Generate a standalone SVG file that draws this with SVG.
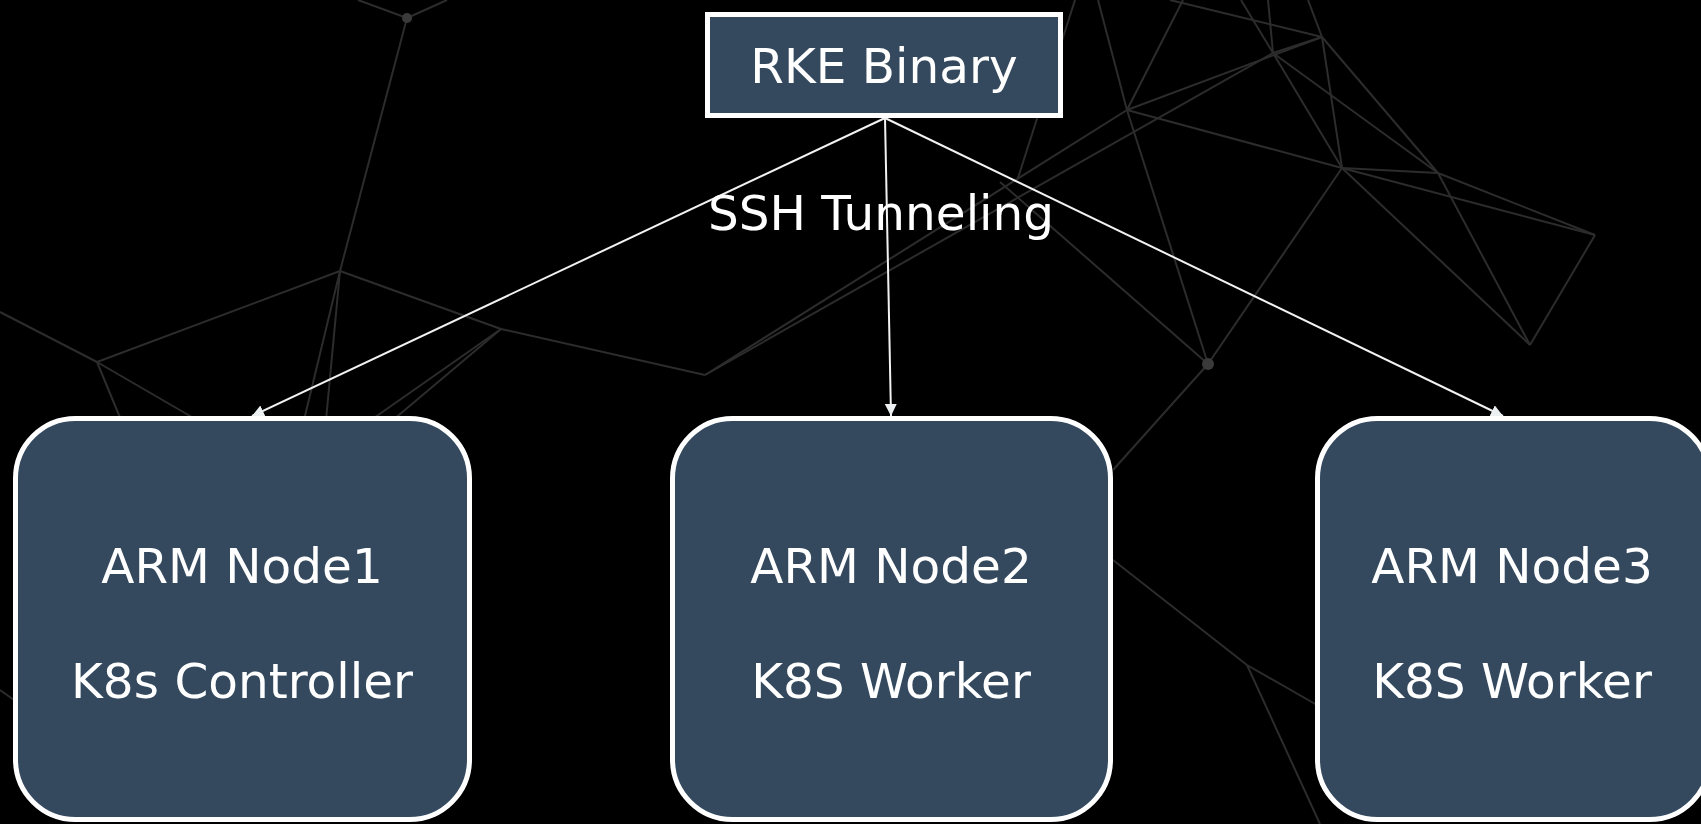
<svg xmlns="http://www.w3.org/2000/svg" width="1701" height="824" viewBox="0 0 1701 824">
<style>
.bg line{stroke:#2c2c2c;stroke-width:2;fill:none}
.dot{fill:#3a3a3a}
.node{fill:#34495e;stroke:#ffffff;stroke-width:5}
.lbl{font-family:"DejaVu Sans","Verdana",sans-serif;font-size:48.5px;fill:#ffffff;text-anchor:middle}
.conn{stroke:#f2f2f2;stroke-width:2;fill:none;marker-end:url(#arr)}
</style>
<defs>
<marker id="arr" markerUnits="userSpaceOnUse" markerWidth="14" markerHeight="14" refX="12" refY="6" orient="auto">
<path d="M0,0 L12,6 L0,12 Z" fill="#ecf0f1"/>
</marker>
</defs>
<rect x="0" y="0" width="1701" height="824" fill="#000000"/>
<g class="bg" id="background">
<line x1="358" y1="0" x2="407" y2="18"/>
<line x1="447" y1="0" x2="407" y2="18"/>
<line x1="407" y1="18" x2="340" y2="271"/>
<line x1="340" y1="271" x2="304" y2="420"/>
<line x1="340" y1="271" x2="326" y2="420"/>
<line x1="340" y1="271" x2="97" y2="362"/>
<line x1="340" y1="271" x2="501" y2="329"/>
<line x1="0" y1="312" x2="97" y2="362"/>
<line x1="97" y1="362" x2="121" y2="420"/>
<line x1="97" y1="362" x2="197" y2="420"/>
<line x1="501" y1="329" x2="705" y2="375"/>
<line x1="501" y1="329" x2="393" y2="420"/>
<line x1="501" y1="329" x2="371" y2="420"/>
<line x1="705" y1="375" x2="1127" y2="110"/>
<line x1="705" y1="375" x2="1273" y2="53"/>
<line x1="1127" y1="110" x2="1322" y2="37"/>
<line x1="1127" y1="110" x2="1342" y2="168"/>
<line x1="1127" y1="110" x2="1208" y2="364"/>
<line x1="1098" y1="0" x2="1127" y2="110"/>
<line x1="1183" y1="0" x2="1127" y2="110"/>
<line x1="1075" y1="0" x2="1018" y2="178"/>
<line x1="1000" y1="182" x2="1208" y2="364"/>
<line x1="1342" y1="168" x2="1208" y2="364"/>
<line x1="1342" y1="168" x2="1438" y2="173"/>
<line x1="1438" y1="173" x2="1595" y2="235"/>
<line x1="1342" y1="168" x2="1595" y2="235"/>
<line x1="1342" y1="168" x2="1530" y2="345"/>
<line x1="1438" y1="173" x2="1530" y2="345"/>
<line x1="1595" y1="235" x2="1530" y2="345"/>
<line x1="1322" y1="37" x2="1342" y2="168"/>
<line x1="1273" y1="53" x2="1342" y2="168"/>
<line x1="1273" y1="53" x2="1438" y2="173"/>
<line x1="1322" y1="37" x2="1438" y2="173"/>
<line x1="1273" y1="53" x2="1322" y2="37"/>
<line x1="1170" y1="0" x2="1322" y2="37"/>
<line x1="1241" y1="0" x2="1273" y2="53"/>
<line x1="1268" y1="0" x2="1273" y2="53"/>
<line x1="1308" y1="0" x2="1322" y2="37"/>
<line x1="1208" y1="364" x2="1113" y2="470"/>
<line x1="1113" y1="560" x2="1247" y2="665"/>
<line x1="1247" y1="665" x2="1317" y2="705"/>
<line x1="1247" y1="665" x2="1320" y2="824"/>
<line x1="0" y1="690" x2="14" y2="700"/>
<circle class="dot" cx="407" cy="18" r="5"/>
<circle class="dot" cx="1208" cy="364" r="6"/>
</g>
<g id="connectors">
<line class="conn" x1="885" y1="118" x2="252" y2="416"/>
<line class="conn" x1="885" y1="118" x2="891" y2="416"/>
<line class="conn" x1="885" y1="118" x2="1503" y2="416"/>
<text class="lbl" x="881" y="230">SSH Tunneling</text>
</g>
<g id="rke-binary">
<rect class="node" x="707.5" y="14.5" width="353" height="101"/>
<text class="lbl" x="884" y="83">RKE Binary</text>
</g>
<g id="arm-node1">
<rect class="node" x="15.5" y="418.5" width="454" height="401" rx="60" ry="60"/>
<text class="lbl" x="242" y="583">ARM Node1</text>
<text class="lbl" x="242" y="698">K8s Controller</text>
</g>
<g id="arm-node2">
<rect class="node" x="672.5" y="418.5" width="438" height="401" rx="60" ry="60"/>
<text class="lbl" x="891" y="583">ARM Node2</text>
<text class="lbl" x="891" y="698">K8S Worker</text>
</g>
<g id="arm-node3">
<rect class="node" x="1317.5" y="418.5" width="392" height="401" rx="60" ry="60"/>
<text class="lbl" x="1512" y="583">ARM Node3</text>
<text class="lbl" x="1512" y="698">K8S Worker</text>
</g>
</svg>
